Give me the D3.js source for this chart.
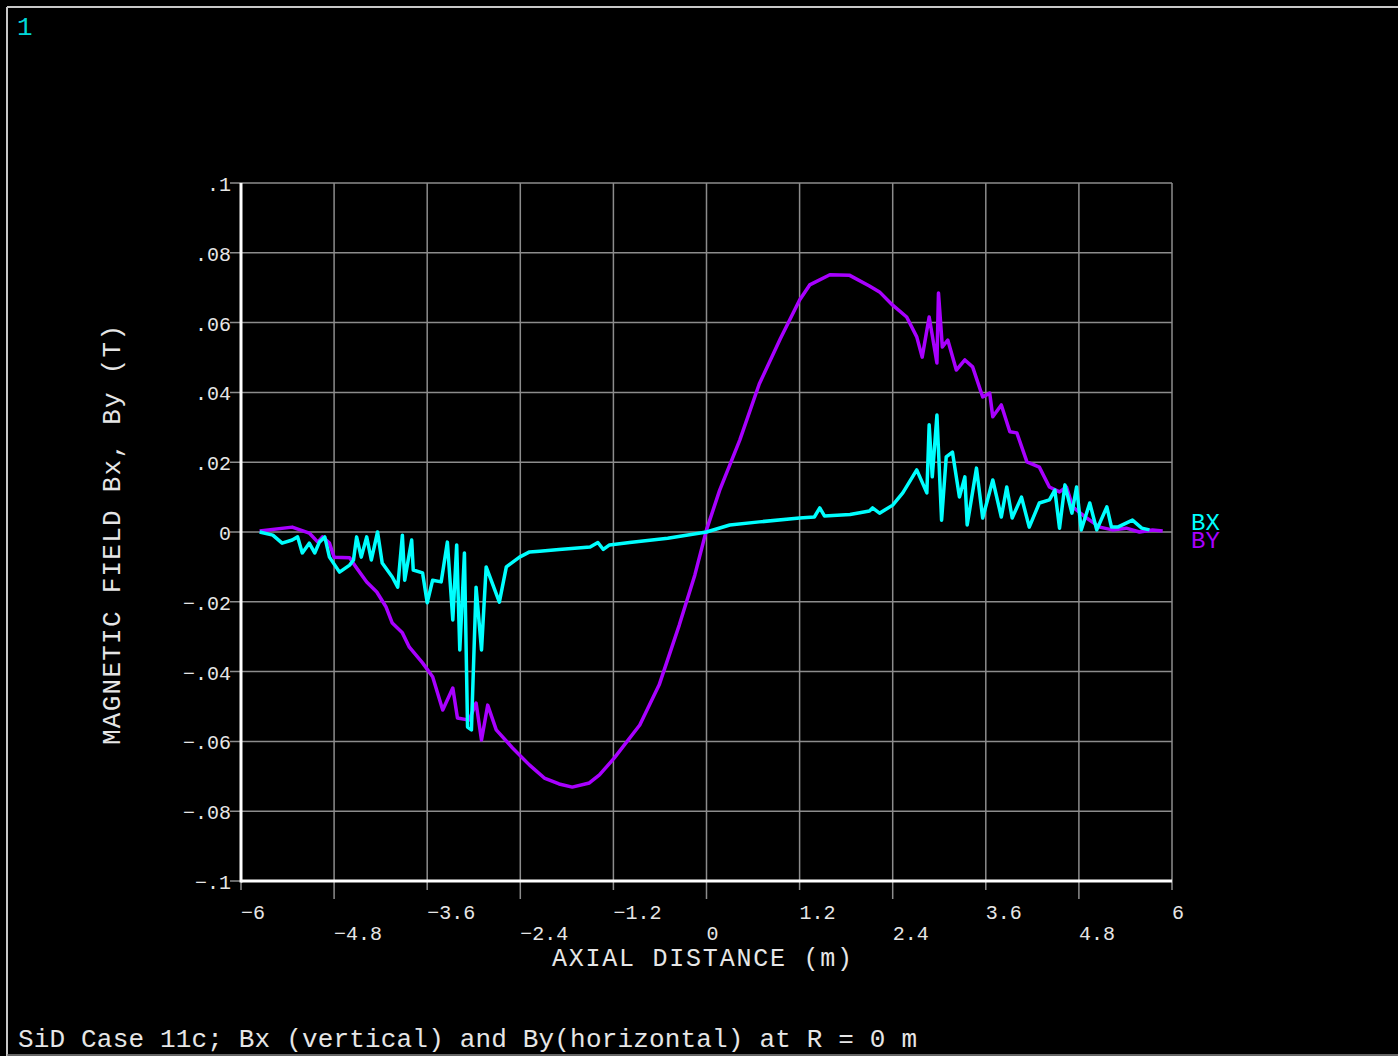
<!DOCTYPE html>
<html>
<head>
<meta charset="utf-8">
<script src="https://cdn.jsdelivr.net/npm/d3@7"></script>
<style>
  body { margin: 0; background: #000; }
  svg { display: block; }
</style>
</head>
<body>
<script>
// axial position (m) and field (T)
var bxX = [-5.76, -5.59, -5.47, -5.34, -5.27, -5.21, -5.12, -5.05, -4.99, -4.92, -4.86, -4.73, -4.60, -4.55,
  -4.51, -4.45, -4.38, -4.32, -4.24, -4.18, -4.05, -3.98, -3.92, -3.89, -3.80, -3.78, -3.66, -3.60, -3.53,
  -3.42, -3.34, -3.27, -3.22, -3.18, -3.12, -3.08, -3.03, -2.97, -2.90, -2.84, -2.67, -2.58, -2.41, -2.28,
  -2.15, -1.90, -1.50, -1.40, -1.33, -1.25, -0.99, -0.50, 0, 0.30, 0.68, 1.20, 1.39, 1.46, 1.52, 1.85, 2.10,
  2.14, 2.23, 2.40, 2.53, 2.71, 2.84, 2.87, 2.91, 2.97, 3.03, 3.09, 3.17, 3.26, 3.33, 3.36, 3.48, 3.56, 3.69,
  3.80, 3.87, 3.94, 4.06, 4.16, 4.29, 4.42, 4.49, 4.55, 4.62, 4.71, 4.77, 4.83, 4.94, 5.03, 5.16, 5.22, 5.30,
  5.49, 5.61, 5.71];
var bxY = [0, -0.0009, -0.0032, -0.0023, -0.0014, -0.0060, -0.0032, -0.0060, -0.0029, -0.0014, -0.0072, -0.0115,
  -0.0095, -0.0080, -0.0014, -0.0072, -0.0014, -0.0080, 0, -0.0089, -0.0129, -0.0158, -0.0009, -0.0138,
  -0.0023, -0.0109, -0.0117, -0.0203, -0.0138, -0.0143, -0.0029, -0.0252, -0.0037, -0.0338, -0.0060,
  -0.0559, -0.0567, -0.0158, -0.0338, -0.0100, -0.0201, -0.0100, -0.0072, -0.0057, -0.0055, -0.0050,
  -0.0043, -0.0030, -0.0050, -0.0037, -0.0030, -0.0018, 0, 0.0020, 0.0029, 0.0040, 0.0043, 0.0069, 0.0046,
  0.0050, 0.0060, 0.0069, 0.0054, 0.0077, 0.0112, 0.0178, 0.0112, 0.0307, 0.0158, 0.0335, 0.0034, 0.0215,
  0.0229, 0.0100, 0.0158, 0.0020, 0.0183, 0.0040, 0.0149, 0.0043, 0.0129, 0.0040, 0.0100, 0.0014, 0.0083,
  0.0092, 0.0120, 0.0011, 0.0135, 0.0054, 0.0129, 0.0006, 0.0083, 0.0006, 0.0072, 0.0014, 0.0014, 0.0034,
  0.0011, 0.0006];

var byX = [-5.76, -5.34, -5.12, -5.01, -4.95, -4.86, -4.80, -4.60, -4.51, -4.38, -4.25, -4.13, -4.05, -3.92,
  -3.83, -3.66, -3.53, -3.40, -3.27, -3.21, -3.06, -2.97, -2.90, -2.82, -2.71, -2.50, -2.28, -2.09, -1.90,
  -1.73, -1.51, -1.38, -1.19, -0.86, -0.61, -0.35, -0.15, 0, 0.17, 0.43, 0.68, 0.95, 1.20, 1.33, 1.59, 1.84,
  2.10, 2.23, 2.40, 2.58, 2.71, 2.78, 2.87, 2.97, 2.99, 3.04, 3.11, 3.22, 3.33, 3.43, 3.56, 3.65, 3.69, 3.80,
  3.91, 4.00, 4.13, 4.29, 4.42, 4.55, 4.64, 4.72, 4.90, 5.07, 5.23, 5.41, 5.58, 5.75, 5.88];
var byY = [0.0003, 0.0014, -0.0003, -0.0029, -0.0014, -0.0032, -0.0072, -0.0074, -0.0103, -0.0143, -0.0172,
  -0.0215, -0.0261, -0.0289, -0.0330, -0.0375, -0.0415, -0.0510, -0.0447, -0.0533, -0.0539, -0.0490,
  -0.0596, -0.0496, -0.0567, -0.0619, -0.0668, -0.0705, -0.0722, -0.0731, -0.0719, -0.0696, -0.0648,
  -0.0553, -0.0438, -0.0266, -0.0123, 0.0006, 0.0120, 0.0264, 0.0424, 0.0553, 0.0665, 0.0708, 0.0737,
  0.0736, 0.0705, 0.0688, 0.0650, 0.0616, 0.0559, 0.0501, 0.0616, 0.0484, 0.0685, 0.0530, 0.0550, 0.0464,
  0.0493, 0.0473, 0.0387, 0.0398, 0.0330, 0.0364, 0.0287, 0.0284, 0.0201, 0.0186, 0.0129, 0.0115, 0.0129,
  0.0072, 0.0040, 0.0014, 0.0006, 0.0011, 0, 0.0006, 0.0003];

var xTicks = [-6, -4.8, -3.6, -2.4, -1.2, 0, 1.2, 2.4, 3.6, 4.8, 6];
var xTickLabels = ["\u22126", "\u22124.8", "\u22123.6", "\u22122.4", "\u22121.2", "0", "1.2", "2.4", "3.6", "4.8", "6"];
var yTicks = [-0.1, -0.08, -0.06, -0.04, -0.02, 0, 0.02, 0.04, 0.06, 0.08, 0.1];
var yTickLabels = ["\u2212.1", "\u2212.08", "\u2212.06", "\u2212.04", "\u2212.02", "0", ".02", ".04", ".06", ".08", ".1"];

var seriesNames = ["BX", "BY"];
var seriesColors = ["#00ffff", "#a800ff"];

var W = 1398, H = 1056;
var font = "'Liberation Mono', 'DejaVu Sans Mono', monospace";
var textColor = "#e6e6e6";

var svg = d3.select("body").append("svg")
  .attr("width", W)
  .attr("height", H)
  .style("background", "#000");

// window frame
svg.append("line").attr("x1", 7).attr("x2", W).attr("y1", 7).attr("y2", 7)
  .attr("stroke", "#c8c8c8").attr("stroke-width", 2);
svg.append("line").attr("x1", 7).attr("x2", 7).attr("y1", 7).attr("y2", H)
  .attr("stroke", "#c8c8c8").attr("stroke-width", 2);
svg.append("line").attr("x1", 7).attr("x2", W).attr("y1", 1055).attr("y2", 1055)
  .attr("stroke", "#888").attr("stroke-width", 1.5);

svg.append("text")
  .attr("x", 17).attr("y", 35)
  .attr("fill", "#00d8d8")
  .style("font-family", font).style("font-size", "26px")
  .text("1");

var x = d3.scaleLinear().domain([-6, 6]).range([241, 1172]);
var y = d3.scaleLinear().domain([-0.1, 0.1]).range([881, 183]);

// grid
svg.append("g").selectAll("line.vg")
  .data(xTicks.slice(1))
  .enter().append("line")
  .attr("x1", d => x(d)).attr("x2", d => x(d))
  .attr("y1", y(0.1)).attr("y2", y(-0.1))
  .attr("stroke", "#8c8c8c").attr("stroke-width", 1.5);

svg.append("g").selectAll("line.hg")
  .data(yTicks.slice(1))
  .enter().append("line")
  .attr("x1", x(-6) - 11).attr("x2", x(6))
  .attr("y1", d => y(d)).attr("y2", d => y(d))
  .attr("stroke", "#8c8c8c").attr("stroke-width", 1.5);

// x tick marks, alternating lengths
svg.append("g").selectAll("line")
  .data(xTicks)
  .enter().append("line")
  .attr("x1", d => x(d)).attr("x2", d => x(d))
  .attr("y1", y(-0.1)).attr("y2", (d, i) => y(-0.1) + (i % 2 ? 18 : 9))
  .attr("stroke", "#8c8c8c").attr("stroke-width", 1.5);

svg.append("line")
  .attr("x1", x(-6) - 11).attr("x2", x(-6))
  .attr("y1", y(-0.1)).attr("y2", y(-0.1))
  .attr("stroke", "#8c8c8c").attr("stroke-width", 1.5);

// axes
svg.append("line")
  .attr("x1", x(-6)).attr("x2", x(-6)).attr("y1", y(0.1)).attr("y2", y(-0.1) + 1.5)
  .attr("stroke", "#fff").attr("stroke-width", 3);
svg.append("line")
  .attr("x1", x(-6)).attr("x2", x(6)).attr("y1", y(-0.1)).attr("y2", y(-0.1))
  .attr("stroke", "#fff").attr("stroke-width", 3);

// tick labels
svg.append("g").selectAll("text")
  .data(xTicks)
  .enter().append("text")
  .attr("x", d => x(d))
  .attr("y", (d, i) => i % 2 ? 940 : 919)
  .attr("fill", textColor)
  .style("font-family", font).style("font-size", "20px")
  .text((d, i) => xTickLabels[i]);

svg.append("g").selectAll("text")
  .data(yTicks)
  .enter().append("text")
  .attr("x", x(-6) - 10)
  .attr("y", d => y(d) + 8)
  .attr("text-anchor", "end")
  .attr("fill", textColor)
  .style("font-family", font).style("font-size", "20px")
  .text((d, i) => yTickLabels[i]);

// axis titles
svg.append("text")
  .attr("x", 552).attr("y", 966)
  .attr("fill", textColor)
  .attr("textLength", 300).attr("lengthAdjust", "spacing")
  .style("font-family", font).style("font-size", "25px")
  .text("AXIAL DISTANCE (m)");

svg.append("text")
  .attr("transform", "translate(120,535) rotate(-90)")
  .attr("text-anchor", "middle")
  .attr("fill", textColor)
  .attr("textLength", 420).attr("lengthAdjust", "spacing")
  .style("font-family", font).style("font-size", "26px")
  .text("MAGNETIC FIELD Bx, By (T)");

svg.append("text")
  .attr("x", 18).attr("y", 1047)
  .attr("fill", textColor)
  .attr("textLength", 899).attr("lengthAdjust", "spacing")
  .style("font-family", font).style("font-size", "26px")
  .text("SiD Case 11c; Bx (vertical) and By(horizontal) at R = 0 m");

// curves
var line = d3.line()
  .x(d => x(d[0]))
  .y(d => y(d[1]));

var bx = bxX.map((v, i) => [v, bxY[i]]);
var by = byX.map((v, i) => [v, byY[i]]);

svg.append("path")
  .datum(by)
  .attr("d", line)
  .attr("fill", "none")
  .attr("stroke", seriesColors[1])
  .attr("stroke-width", 3.5)
  .attr("stroke-linejoin", "round");

svg.append("path")
  .datum(bx)
  .attr("d", line)
  .attr("fill", "none")
  .attr("stroke", seriesColors[0])
  .attr("stroke-width", 3.5)
  .attr("stroke-linejoin", "round");

// legend (the two labels overlap slightly, as in the original)
svg.append("g").selectAll("text")
  .data(seriesNames)
  .enter().append("text")
  .attr("x", 1191)
  .attr("y", (d, i) => 530 + i * 18)
  .attr("fill", (d, i) => seriesColors[i])
  .style("font-family", font).style("font-size", "24px")
  .text(d => d);
</script>
</body>
</html>
